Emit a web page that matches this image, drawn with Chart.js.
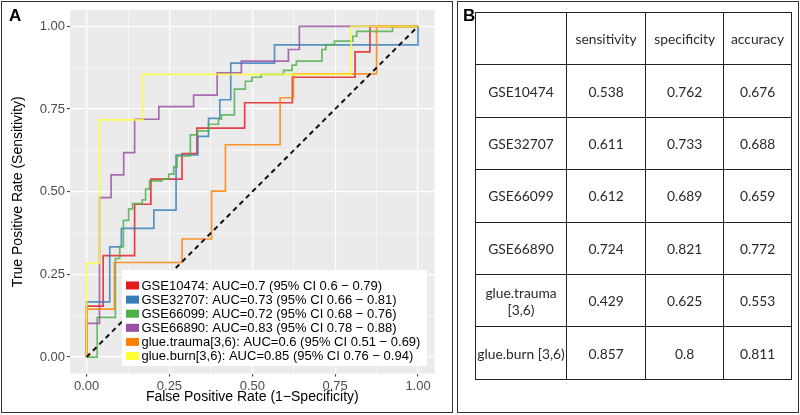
<!DOCTYPE html>
<html>
<head>
<meta charset="utf-8">
<script src="https://cdn.jsdelivr.net/npm/chart.js@4"></script>
<style>
  body { margin: 0; background: #fff; width: 800px; height: 415px; position: relative; overflow: hidden; }
  #panelA { position: absolute; left: 0; top: 0; width: 455px; height: 415px; }
  .frame { position: absolute; border: 1.5px solid #333; box-sizing: border-box; }
  .tag { position: absolute; font: bold 17px "Liberation Sans", Arial, sans-serif; color: #000; }
  #tbl { position: absolute; left: 475px; top: 12px; border-collapse: collapse;
         font: 13.8px Lato, "Open Sans", sans-serif; color: #2a2a2a; }
  #tbl td { border: 1.5px solid #222; height: 51.4px; text-align: center; padding: 0; line-height: 17px; }
</style>
</head>
<body>
<div id="panelA"><canvas id="myChart"></canvas></div>
<div class="frame" style="left:1px;top:1px;width:452px;height:412px;"></div>
<div class="frame" style="left:457px;top:1px;width:342px;height:412px;"></div>
<div class="tag" style="left:9px;top:6px;">A</div>
<div class="tag" style="left:463px;top:6px;">B</div>
<table id="tbl"></table>
<script>
// ROC curves (false positive rate / true positive rate)
var seriesNames = ['GSE10474', 'GSE32707', 'GSE66099', 'GSE66890', 'glue.trauma[3,6)', 'glue.burn[3,6)'];
var aucLabels = [
    'AUC=0.7 (95% CI 0.6 \u2212 0.79)',
    'AUC=0.73 (95% CI 0.66 \u2212 0.81)',
    'AUC=0.72 (95% CI 0.68 \u2212 0.76)',
    'AUC=0.83 (95% CI 0.78 \u2212 0.88)',
    'AUC=0.6 (95% CI 0.51 \u2212 0.69)',
    'AUC=0.85 (95% CI 0.76 \u2212 0.94)'
];
var colors = ['#E41A1C', '#377EB8', '#4DAF4A', '#984EA3', '#FF7F00', '#FFFF33'];

var gse10474Fpr = [0, 0, 0.050, 0.050, 0.145, 0.145, 0.194, 0.194, 0.288, 0.288, 0.333, 0.333, 0.477, 0.477, 0.621, 0.621, 0.810, 0.810, 0.855, 0.855, 1];
var gse10474Tpr = [0, 0.154, 0.154, 0.307, 0.307, 0.462, 0.462, 0.538, 0.538, 0.615, 0.615, 0.692, 0.692, 0.769, 0.769, 0.846, 0.846, 0.923, 0.923, 1, 1];

var gse32707Fpr = [0, 0, 0.070, 0.070, 0.105, 0.105, 0.203, 0.203, 0.270, 0.270, 0.336, 0.336, 0.368, 0.368, 0.402, 0.402, 0.435, 0.435, 0.567, 0.567, 1, 1];
var gse32707Tpr = [0, 0.167, 0.167, 0.333, 0.333, 0.389, 0.389, 0.444, 0.444, 0.611, 0.611, 0.667, 0.667, 0.722, 0.722, 0.778, 0.778, 0.889, 0.889, 0.944, 0.944, 1];

var gse66099Fpr = [0, 0.032, 0.032, 0.087, 0.087, 0.100, 0.100, 0.111, 0.111, 0.127, 0.127, 0.139, 0.139, 0.168, 0.168, 0.178, 0.178, 0.190, 0.190, 0.228, 0.228, 0.248, 0.248, 0.263, 0.263, 0.273, 0.273, 0.313, 0.313, 0.335, 0.335, 0.368, 0.368, 0.398, 0.398, 0.407, 0.407, 0.446, 0.446, 0.479, 0.479, 0.499, 0.499, 0.527, 0.527, 0.594, 0.594, 0.620, 0.620, 0.633, 0.633, 0.710, 0.710, 0.722, 0.722, 0.748, 0.748, 0.803, 0.803, 0.815, 0.815, 0.923, 0.923, 1];
var gse66099Tpr = [0, 0, 0.120, 0.120, 0.298, 0.298, 0.334, 0.334, 0.413, 0.413, 0.448, 0.448, 0.464, 0.464, 0.475, 0.475, 0.508, 0.508, 0.533, 0.533, 0.538, 0.538, 0.553, 0.553, 0.575, 0.575, 0.608, 0.608, 0.672, 0.672, 0.684, 0.684, 0.704, 0.704, 0.719, 0.719, 0.732, 0.732, 0.810, 0.810, 0.834, 0.834, 0.846, 0.846, 0.855, 0.855, 0.867, 0.867, 0.883, 0.883, 0.895, 0.895, 0.930, 0.930, 0.945, 0.945, 0.955, 0.955, 0.970, 0.970, 0.985, 0.985, 1, 1];

var gse66890Fpr = [0, 0, 0.039, 0.039, 0.074, 0.074, 0.112, 0.112, 0.145, 0.145, 0.218, 0.218, 0.323, 0.323, 0.394, 0.394, 0.467, 0.467, 0.609, 0.609, 0.642, 0.642, 1];
var gse66890Tpr = [0, 0.102, 0.102, 0.482, 0.482, 0.551, 0.551, 0.618, 0.618, 0.719, 0.719, 0.757, 0.757, 0.792, 0.792, 0.859, 0.859, 0.895, 0.895, 0.930, 0.930, 1, 1];

var traumaFpr = [0, 0, 0.084, 0.084, 0.288, 0.288, 0.377, 0.377, 0.419, 0.419, 0.584, 0.584, 0.624, 0.624, 0.875, 0.875, 1];
var traumaTpr = [0, 0.145, 0.145, 0.286, 0.286, 0.357, 0.357, 0.502, 0.502, 0.642, 0.642, 0.784, 0.784, 0.856, 0.856, 1, 1];

var burnFpr = [0, 0, 0.039, 0.039, 0.169, 0.169, 0.798, 0.798, 1];
var burnTpr = [0, 0.283, 0.283, 0.717, 0.717, 0.855, 0.855, 1, 1];

var diagFpr = [0, 1];
var diagTpr = [0, 1];

var axisTicks = [0, 0.125, 0.25, 0.375, 0.5, 0.625, 0.75, 0.875, 1];

// table (panel B)
var tableHeader = ['', 'sensitivity', 'specificity', 'accuracy'];
var tableRows = ['GSE10474', 'GSE32707', 'GSE66099', 'GSE66890', 'glue.trauma<br>[3,6)', 'glue.burn [3,6)'];
var sensitivity = ['0.538', '0.611', '0.612', '0.724', '0.429', '0.857'];
var specificity = ['0.762', '0.733', '0.689', '0.821', '0.625', '0.8'];
var accuracy = ['0.676', '0.688', '0.659', '0.772', '0.553', '0.811'];

var fprs = [gse10474Fpr, gse32707Fpr, gse66099Fpr, gse66890Fpr, traumaFpr, burnFpr];
var tprs = [gse10474Tpr, gse32707Tpr, gse66099Tpr, gse66890Tpr, traumaTpr, burnTpr];

function pts(xs, ys) {
    return xs.map(function (x, i) { return { x: x, y: ys[i] }; });
}
function hexA(hex, a) {
    var n = parseInt(hex.slice(1), 16);
    return 'rgba(' + (n >> 16) + ',' + ((n >> 8) & 255) + ',' + (n & 255) + ',' + a + ')';
}
function isMajor(v) {
    return Math.abs(v * 4 - Math.round(v * 4)) < 1e-6;
}

var datasets = seriesNames.map(function (name, i) {
    return {
        label: name + ': ' + aucLabels[i],
        data: pts(fprs[i], tprs[i]),
        borderColor: hexA(colors[i], 0.82),
        borderWidth: 1.7,
        order: 10 - i
    };
});
datasets.push({
    label: 'diagonal',
    data: pts(diagFpr, diagTpr),
    borderColor: '#111',
    borderWidth: 2,
    borderDash: [5, 4],
    order: 0
});

var panelBg = {
    id: 'panelBg',
    beforeDraw: function (chart) {
        var a = chart.chartArea, c = chart.ctx;
        c.save();
        c.fillStyle = '#EBEBEB';
        c.fillRect(a.left, a.top, a.right - a.left, a.bottom - a.top);
        c.restore();
    }
};

var insetLegend = {
    id: 'insetLegend',
    afterDraw: function (chart) {
        var c = chart.ctx;
        c.save();
        c.fillStyle = '#fff';
        c.fillRect(122, 270, 305, 96);
        c.font = '13px "Liberation Sans", Arial, sans-serif';
        c.textBaseline = 'middle';
        for (var i = 0; i < seriesNames.length; i++) {
            var y = 285.5 + i * 14.1;
            c.fillStyle = colors[i];
            c.fillRect(126, y - 4, 13, 8);
            c.fillStyle = '#000';
            c.fillText(chart.data.datasets[i].label, 141.5, y + 0.5);
        }
        c.restore();
    }
};

function axis(title, pad) {
    return {
        type: 'linear',
        min: -0.05,
        max: 1.05,
        afterBuildTicks: function (s) {
            s.ticks = axisTicks.map(function (v) { return { value: v }; });
        },
        ticks: {
            autoSkip: false,
            padding: 2,
            color: '#4D4D4D',
            font: { family: '"Liberation Sans", Arial, sans-serif', size: 13 },
            callback: function (v) { return isMajor(v) ? v.toFixed(2) : ''; }
        },
        grid: {
            color: '#FFFFFF',
            lineWidth: function (ctx) { return ctx.tick && isMajor(ctx.tick.value) ? 1.2 : 0.55; },
            tickColor: function (ctx) { return ctx.tick && isMajor(ctx.tick.value) ? '#333' : 'rgba(0,0,0,0)'; },
            tickLength: 3,
            tickWidth: 1
        },
        border: { display: false },
        title: {
            display: true,
            text: title,
            color: '#000',
            font: { family: '"Liberation Sans", Arial, sans-serif', size: 14 },
            padding: pad
        }
    };
}

var xAxis = axis('False Positive Rate (1\u2212Specificity)', { top: 0, bottom: 9.6 });
xAxis.afterFit = function (s) { s.height = 41.4; };
var yAxis = axis('True Positive Rate (Sensitivity)', { top: 9.5, bottom: 0 });
yAxis.afterFit = function (s) { s.width = 70; };

var ctx = document.getElementById('myChart').getContext('2d');
var chart = new Chart(ctx, {
    type: 'scatter',
    data: { datasets: datasets },
    options: {
        responsive: true,
        maintainAspectRatio: false,
        animation: false,
        showLine: true,
        elements: { point: { radius: 0 }, line: { tension: 0 } },
        layout: { padding: { left: 0, top: 8.4, right: 20.4, bottom: 0 } },
        plugins: { legend: { display: false }, tooltip: { enabled: false } },
        scales: { x: xAxis, y: yAxis }
    },
    plugins: [panelBg, insetLegend]
});

// build the table
var tbl = document.getElementById('tbl');
var widths = [90.1, 77.9, 77.5, 66.1];
var html = '<tr>' + tableHeader.map(function (h, j) {
    return '<td style="width:' + widths[j] + 'px">' + h + '</td>';
}).join('') + '</tr>';
tableRows.forEach(function (r, i) {
    html += '<tr><td style="white-space:nowrap">' + r + '</td><td>' + sensitivity[i] + '</td><td>' +
        specificity[i] + '</td><td>' + accuracy[i] + '</td></tr>';
});
tbl.innerHTML = html;
</script>
</body>
</html>
